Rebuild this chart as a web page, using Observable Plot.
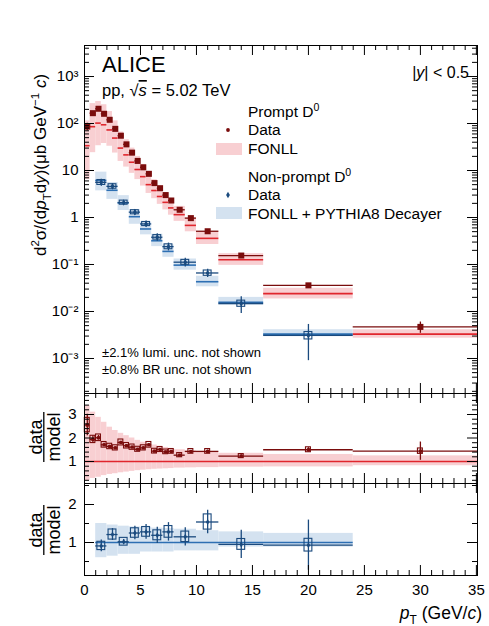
<!DOCTYPE html>
<html><head><meta charset="utf-8">
<script src="https://cdn.jsdelivr.net/npm/d3@7"></script>
<script src="https://cdn.jsdelivr.net/npm/@observablehq/plot@0.6"></script>
<style>
body{margin:0;background:#fff;}
#wrap{position:relative;width:489px;height:626px;font-family:"Liberation Sans",Arial,Helvetica,sans-serif;}
#wrap svg{position:absolute;left:0;overflow:visible;}
</style></head><body><div id="wrap"></div>
<script>
// ---------------- data ----------------
const promptEdges = [0,0.5,1,1.5,2,2.5,3,3.5,4,4.5,5,5.5,6,6.5,7,7.5,8,9,10,12,16,24,36];
const promptXsec = [86,166,206,161,120,77,55,36,24,16,11.7,8.5,5.4,4.2,3.0,2.3,1.46,0.97,0.51,0.155,0.036,0.0047];
const promptStatRel = [0.18,0.08,0.05,0.04,0.03,0.03,0.03,0.03,0.03,0.03,0.03,0.03,0.03,0.03,0.03,0.03,0.03,0.03,0.04,0.05,0.06,0.27];
const promptSystRel = [0.12,0.08,0.07,0.07,0.07,0.07,0.07,0.07,0.07,0.07,0.07,0.07,0.07,0.07,0.07,0.07,0.07,0.07,0.07,0.07,0.07,0.08];
const promptRatio = [2.55,1.94,2.01,1.71,1.64,1.58,1.81,1.67,1.61,1.52,1.58,1.71,1.44,1.51,1.41,1.43,1.27,1.43,1.43,1.23,1.50,1.44];
const fonllPrompt = [33.7,85.6,102,94,73,49,30,21.5,15,10.5,7.4,5.0,3.75,2.8,2.1,1.6,1.15,0.68,0.36,0.126,0.024,0.0033];
const fonllPromptUp = [3.38,3.1,2.88,2.67,2.46,2.32,2.2,2.1,2.0,1.9,1.82,1.76,1.7,1.65,1.6,1.56,1.5,1.45,1.40,1.35,1.3,1.24];
const fonllPromptLow = [0.19,0.28,0.33,0.40,0.45,0.48,0.52,0.55,0.58,0.61,0.63,0.65,0.67,0.68,0.69,0.70,0.72,0.73,0.74,0.76,0.77,0.82];

const npEdges = [1,2,3,4,5,6,7,8,10,12,16,24];
const npXsec = [5.6,4.6,2.08,1.30,0.73,0.38,0.24,0.112,0.066,0.0148,0.0031];
const npStatRel = [0.17,0.13,0.06,0.14,0.15,0.18,0.19,0.21,0.20,0.39,0.71];
const npSystRel = [0.12,0.11,0.10,0.10,0.10,0.11,0.12,0.12,0.13,0.15,0.18];
const npRatio = [0.91,1.21,1.02,1.25,1.28,1.19,1.28,1.15,1.54,0.95,0.93];
const fonllNp = [6.15,3.8,2.04,1.04,0.57,0.32,0.19,0.097,0.043,0.0156,0.0033];
const fonllNpUp = [1.50,1.46,1.43,1.41,1.40,1.38,1.37,1.35,1.31,1.28,1.24];
const fonllNpLow = [0.60,0.64,0.69,0.69,0.75,0.75,0.75,0.78,0.78,0.88,0.88];

const xTickLabels = [0,5,10,15,20,25,30,35];
const logTickValues = [1e-3,1e-2,1e-1,1,10,100,1000];
const logTickLabels = ["10\u207B\u00B3","10\u207B\u00B2","10\u207B\u00B9","1","10","10\u00B2","10\u00B3"];
const ratio1Ticks = [1,2,3];
const ratio2Ticks = [1,2];

// ---------------- style ----------------
const FONT = "Liberation Sans, Arial, Helvetica, sans-serif";
const PROMPT_DATA = "#7a0c0c", PROMPT_LINE = "#e0262d", PROMPT_BAND = "#f8cfd2";
const NP_DATA = "#1a4a7e", NP_LINE = "#2d6fb3", NP_BAND = "#d4e2f0";
const W = 489, ML = 84, MR = 12;
const XDOM = [0, 35.1];
const innerW = W - ML - MR;

const rows = (edges, vals, stat, syst, ratio, fc, up, low) => vals.map((v, i) => ({
  lo: edges[i], hi: edges[i + 1], x: (edges[i] + edges[i + 1]) / 2,
  v, stat: stat[i], syst: syst[i], ratio: ratio[i], fc: fc[i], up: up[i], low: low[i]
}));
const prompt = rows(promptEdges, promptXsec, promptStatRel, promptSystRel, promptRatio, fonllPrompt, fonllPromptUp, fonllPromptLow);
const np = rows(npEdges, npXsec, npStatRel, npSystRel, npRatio, fonllNp, fonllNpUp, fonllNpLow);

const xMajor = d3.range(0, 36, 5);
const xMinor = d3.range(0, 36, 1).filter(v => v % 5 !== 0);

function frameTicks(innerH, yMaj, yMin) {
  const s = {stroke: "black", strokeWidth: 1};
  return [
    Plot.tickX(xMajor, {x: d => d, insetTop: innerH - 10, ...s}),
    Plot.tickX(xMajor, {x: d => d, insetBottom: innerH - 10, ...s}),
    Plot.tickX(xMinor, {x: d => d, insetTop: innerH - 5, ...s}),
    Plot.tickX(xMinor, {x: d => d, insetBottom: innerH - 5, ...s}),
    Plot.tickY(yMaj, {y: d => d, insetRight: innerW - 10, ...s}),
    Plot.tickY(yMaj, {y: d => d, insetLeft: innerW - 10, ...s}),
    Plot.tickY(yMin, {y: d => d, insetRight: innerW - 5, ...s}),
    Plot.tickY(yMin, {y: d => d, insetLeft: innerW - 5, ...s}),
    Plot.frame({stroke: "black", strokeWidth: 1})
  ];
}

function dataMarks(data, val, color, boxHalf, isPrompt, r, withBox = true) {
  const m = [
    Plot.ruleY(data, {y: val, x1: "lo", x2: "hi", stroke: color, strokeWidth: 1.3, clip: true}),
    Plot.ruleX(data, {x: "x", y1: d => val(d) * (1 - d.stat), y2: d => val(d) * (1 + d.stat), stroke: color, strokeWidth: 1.3, clip: true})
  ];
  if (withBox) m.push(Plot.rect(data, {x1: d => d.x - boxHalf, x2: d => d.x + boxHalf, y1: d => val(d) * (1 - d.syst), y2: d => val(d) * (1 + d.syst), fill: "none", stroke: color, strokeWidth: 1.1}));
  m.push(Plot.dot(data, {x: "x", y: val, symbol: isPrompt ? "square" : "diamond", r, fill: color, stroke: "none"}));
  return m;
}

const baseStyle = {fontFamily: FONT, fontSize: "15px", color: "black", background: "white", overflow: "visible"};
const wrap = document.getElementById("wrap");

// ---------------- top panel ----------------
const H1 = 393, MT1 = 45;
const yDom1 = [Math.pow(10, -3.745), Math.pow(10, 3.66)];
const logMinor = [];
for (let e = -4; e <= 3; e++) for (let k = 2; k <= 9; k++) {
  const v = +(k + "e" + e);
  if (v > yDom1[0] && v < yDom1[1]) logMinor.push(v);
}
const p1 = Plot.plot({
  width: W, height: H1, marginTop: MT1, marginBottom: 0, marginLeft: ML, marginRight: MR,
  style: baseStyle,
  x: {domain: XDOM, axis: null},
  y: {type: "log", domain: yDom1},
  marks: [
    Plot.rect(prompt, {x1: "lo", x2: "hi", y1: d => d.fc * d.low, y2: d => d.fc * d.up, fill: PROMPT_BAND, clip: true}),
    Plot.rect(np, {x1: "lo", x2: "hi", y1: d => d.fc * d.low, y2: d => d.fc * d.up, fill: NP_BAND, clip: true}),
    Plot.ruleY(prompt, {y: "fc", x1: "lo", x2: "hi", stroke: PROMPT_LINE, strokeWidth: 1.6, clip: true}),
    Plot.ruleY(np, {y: "fc", x1: "lo", x2: "hi", stroke: NP_LINE, strokeWidth: 1.6, clip: true}),
    ...dataMarks(np, d => d.v, NP_DATA, 0.35, false, 2),
    ...dataMarks(prompt, d => d.v, PROMPT_DATA, 0.2, true, 3.4, false),
    Plot.axisY({ticks: logTickValues, tickSize: 0, tickPadding: 6, tickFormat: d => logTickLabels[logTickValues.indexOf(d)], label: null, fontSize: 15}),
    ...frameTicks(H1 - MT1, logTickValues, logMinor)
  ]
});
p1.style.top = "0px";
wrap.appendChild(p1);

// ---------------- ratio panel 1 (prompt) ----------------
const H2 = 90;
const yDom2 = [0.064, 3.894];
const r1Minor = d3.range(0.2, 3.85, 0.2).map(v => +v.toFixed(1)).filter(v => Math.abs(v - Math.round(v)) > 1e-6);
const p2 = Plot.plot({
  width: W, height: H2, marginTop: 0, marginBottom: 0, marginLeft: ML, marginRight: MR,
  style: baseStyle,
  x: {domain: XDOM, axis: null},
  y: {domain: yDom2},
  marks: [
    Plot.rect(prompt, {x1: "lo", x2: "hi", y1: "low", y2: "up", fill: PROMPT_BAND, clip: true}),
    Plot.ruleY([1], {stroke: PROMPT_LINE, strokeWidth: 1.6}),
    ...dataMarks(prompt, d => d.ratio, PROMPT_DATA, 0.22, true, 1.8),
    Plot.axisY({ticks: ratio1Ticks, tickSize: 0, tickPadding: 8, tickFormat: d => String(d), label: null, fontSize: 15}),
    ...frameTicks(H2, ratio1Ticks, r1Minor)
  ]
});
p2.style.top = "393px";
wrap.appendChild(p2);

// ---------------- ratio panel 2 (non-prompt) ----------------
const H3 = 143, MB3 = 51;
const yDom3 = [0.132, 2.553];
const r2Minor = [0.5, 1.5, 2.5];
const p3 = Plot.plot({
  width: W, height: H3, marginTop: 0, marginBottom: MB3, marginLeft: ML, marginRight: MR,
  style: baseStyle,
  x: {domain: XDOM},
  y: {domain: yDom3},
  marks: [
    Plot.rect(np, {x1: "lo", x2: "hi", y1: "low", y2: "up", fill: NP_BAND, clip: true}),
    Plot.ruleY([1], {x1: () => npEdges[0], x2: () => npEdges[npEdges.length - 1], stroke: NP_LINE, strokeWidth: 1.6}),
    ...dataMarks(np, d => d.ratio, NP_DATA, 0.35, false, 1.8),
    Plot.axisY({ticks: ratio2Ticks, tickSize: 0, tickPadding: 8, tickFormat: d => String(d), label: null, fontSize: 15}),
    Plot.axisX({ticks: xTickLabels, tickSize: 0, tickPadding: 9, tickFormat: d => String(d), label: null, fontSize: 15}),
    ...frameTicks(H3 - MB3, ratio2Ticks, r2Minor)
  ]
});
p3.style.top = "483px";
wrap.appendChild(p3);

// ---------------- annotations ----------------
const ov = d3.select(wrap).append("svg")
  .attr("width", W).attr("height", 626)
  .style("top", "0px").style("pointer-events", "none")
  .attr("font-family", FONT).attr("fill", "black");

function rich(x, y, size, segs, anchor = "start", transform = null) {
  const t = ov.append("text").attr("x", x).attr("y", y).attr("font-size", size).attr("text-anchor", anchor);
  if (transform) t.attr("transform", transform);
  let shift = 0;
  for (const s of segs) {
    const ts = t.append("tspan").text(s.t);
    const target = s.sup ? -0.4 * size : s.sub ? 0.3 * size : 0;
    if (target !== shift) { ts.attr("dy", target - shift); shift = target; }
    if (s.sup || s.sub) ts.attr("font-size", size * 0.68);
    if (s.it) ts.attr("font-style", "italic");
    if (s.over) ts.attr("text-decoration", "overline");
  }
  return t;
}

rich(102, 72, 22, [{t: "ALICE"}]);
rich(102, 96, 16.5, [{t: "pp, \u221A"}, {t: "s", it: true, over: true}, {t: " = 5.02 TeV"}]);
rich(469, 78, 16, [{t: "|"}, {t: "y", it: true}, {t: "| < 0.5"}], "end");

// legend
rich(248, 117, 15.5, [{t: "Prompt D"}, {t: "0", sup: true}]);
rich(248, 135, 15.5, [{t: "Data"}]);
rich(248, 153.5, 15.5, [{t: "FONLL"}]);
rich(248, 182, 15.5, [{t: "Non-prompt D"}, {t: "0", sup: true}]);
rich(248, 200, 15.5, [{t: "Data"}]);
rich(248, 218.5, 15.5, [{t: "FONLL + PYTHIA8 Decayer"}]);
ov.append("circle").attr("cx", 228).attr("cy", 130).attr("r", 1.9).attr("fill", PROMPT_DATA);
ov.append("path").attr("d", d3.symbol(d3.symbolDiamond, 12)()).attr("transform", "translate(228,195)").attr("fill", NP_DATA);
ov.append("rect").attr("x", 216).attr("y", 143).attr("width", 26).attr("height", 12).attr("fill", PROMPT_BAND);
ov.append("rect").attr("x", 216).attr("y", 207).attr("width", 26).attr("height", 12).attr("fill", NP_BAND);

rich(102, 357, 13, [{t: "\u00B12.1% lumi. unc. not shown"}]);
rich(102, 374, 13, [{t: "\u00B10.8% BR unc. not shown"}]);

// axis titles
rich(0, 0, 17, [{t: "d"}, {t: "2", sup: true}, {t: "\u03C3/(d"}, {t: "p", it: true}, {t: "T", sub: true}, {t: "d"}, {t: "y", it: true}, {t: ")(\u03BCb GeV"}, {t: "\u22121", sup: true}, {t: " "}, {t: "c", it: true}, {t: ")"}], "middle", "translate(46,165) rotate(-90)");

function fracTitle(cy) {
  rich(0, 0, 18, [{t: "data"}], "middle", `translate(41.5,${cy}) rotate(-90)`);
  rich(0, 0, 18, [{t: "model"}], "middle", `translate(60,${cy}) rotate(-90)`);
  ov.append("line").attr("x1", 43.8).attr("x2", 43.8).attr("y1", cy - 25).attr("y2", cy + 25).attr("stroke", "black").attr("stroke-width", 1.3);
}
fracTitle(437);
fracTitle(530);

rich(482, 619, 17.5, [{t: "p", it: true}, {t: "T", sub: true}, {t: " (GeV/"}, {t: "c", it: true}, {t: ")"}], "end");
</script>
</body></html>
